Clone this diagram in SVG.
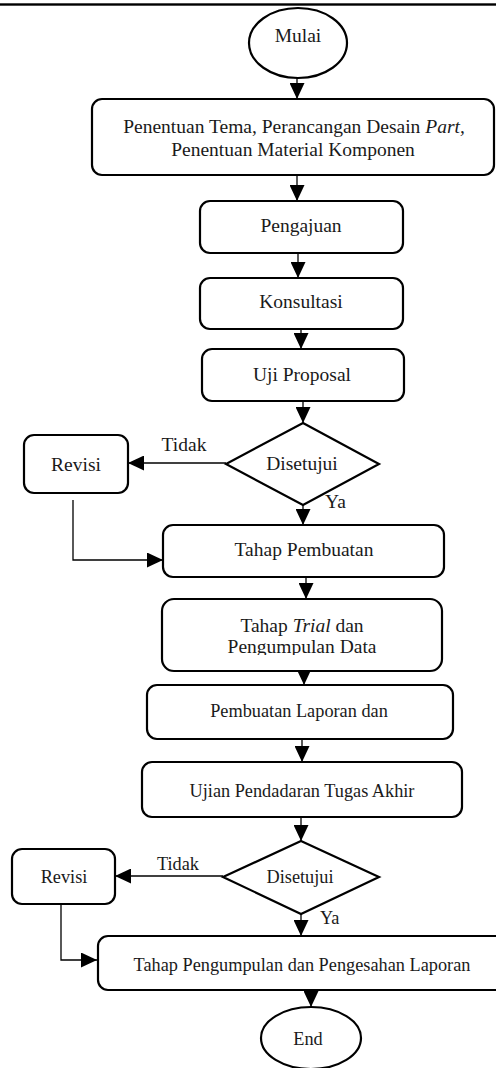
<svg xmlns="http://www.w3.org/2000/svg" width="496" height="1068" viewBox="0 0 496 1068">
<defs>
<style>
.n{fill:#fff;stroke:#000;stroke-width:2.2}
.c{fill:none;stroke:#000;stroke-width:1.3}
text{font-family:"Liberation Serif","Times New Roman",serif;font-size:19.5px;fill:#1a1a1a}
.t{font-size:18.3px}
.m{text-anchor:middle}
</style>
<marker id="ah" markerUnits="userSpaceOnUse" markerWidth="16" markerHeight="15" refX="16" refY="7.5" orient="auto">
<path d="M0,0 L16,7.5 L0,15 z" fill="#000"/>
</marker>
<clipPath id="clipTrial"><rect x="150" y="600" width="300" height="55"/></clipPath>
</defs>
<rect x="0" y="3.3" width="496" height="2.4" fill="#000"/>
<g id="connectors">
<line class="c" x1="297" y1="78" x2="297" y2="99" marker-end="url(#ah)"/>
<line class="c" x1="297" y1="175" x2="297" y2="201" marker-end="url(#ah)"/>
<line class="c" x1="298" y1="253" x2="298" y2="278" marker-end="url(#ah)"/>
<line class="c" x1="301" y1="329" x2="301" y2="349" marker-end="url(#ah)"/>
<line class="c" x1="303" y1="401" x2="303" y2="423" marker-end="url(#ah)"/>
<line class="c" x1="226" y1="463" x2="128" y2="463" marker-end="url(#ah)"/>
<line class="c" x1="303" y1="505" x2="303" y2="525" marker-end="url(#ah)"/>
<polyline class="c" points="73,500 73,560 163,560" marker-end="url(#ah)"/>
<line class="c" x1="306" y1="577" x2="306" y2="599" marker-end="url(#ah)"/>
<line class="c" x1="304" y1="671" x2="304" y2="685" marker-end="url(#ah)"/>
<line class="c" x1="302" y1="739" x2="302" y2="762" marker-end="url(#ah)"/>
<line class="c" x1="301" y1="817" x2="301" y2="841" marker-end="url(#ah)"/>
<line class="c" x1="223" y1="876" x2="115" y2="876" marker-end="url(#ah)"/>
<line class="c" x1="301" y1="914" x2="301" y2="936" marker-end="url(#ah)"/>
<polyline class="c" points="61,904 61,960 97,960" marker-end="url(#ah)"/>
<line class="c" x1="311" y1="990" x2="311" y2="1007" marker-end="url(#ah)"/>
<text x="184" y="451" class="m">Tidak</text>
<text x="325" y="508">Ya</text>
<text x="178" y="870" class="m t">Tidak</text>
<text x="320" y="924" class="t">Ya</text>
</g>
<g id="mulai">
<ellipse class="n" cx="298" cy="43" rx="49" ry="35"/>
<text x="298" y="42" class="m">Mulai</text>
</g>
<g id="penentuan">
<rect class="n" x="92" y="99" width="402" height="76" rx="10"/>
<text x="294" y="133" class="m">Penentuan Tema, Perancangan Desain <tspan font-style="italic">Part,</tspan></text>
<text x="293" y="156" class="m">Penentuan Material Komponen</text>
</g>
<g id="pengajuan">
<rect class="n" x="200" y="201" width="203" height="52" rx="10"/>
<text x="301" y="232" class="m">Pengajuan</text>
</g>
<g id="konsultasi">
<rect class="n" x="200" y="278" width="203" height="51" rx="10"/>
<text x="301" y="308" class="m">Konsultasi</text>
</g>
<g id="uji-proposal">
<rect class="n" x="202" y="349" width="202" height="52" rx="10"/>
<text x="302" y="381" class="m">Uji Proposal</text>
</g>
<g id="disetujui-1">
<polygon class="n" points="303,423 379,464 303,505 226,464"/>
<text x="302" y="470" class="m">Disetujui</text>
</g>
<g id="revisi-1">
<rect class="n" x="24" y="435" width="104" height="58" rx="10"/>
<text x="76" y="471" class="m">Revisi</text>
</g>
<g id="tahap-pembuatan">
<rect class="n" x="163" y="525" width="281" height="52" rx="10"/>
<text x="304" y="556" class="m">Tahap Pembuatan</text>
</g>
<g id="tahap-trial">
<rect class="n" x="162" y="599" width="280" height="72" rx="12"/>
<text x="302" y="632" class="m">Tahap <tspan font-style="italic">Trial</tspan> dan</text>
<text x="302" y="653" class="m" clip-path="url(#clipTrial)">Pengumpulan Data</text>
</g>
<g id="pembuatan-laporan">
<rect class="n" x="147" y="685" width="306" height="54" rx="10"/>
<text x="299" y="717" class="m t">Pembuatan Laporan dan</text>
</g>
<g id="ujian">
<rect class="n" x="142" y="762" width="320" height="55" rx="10"/>
<text x="302" y="797" class="m t">Ujian Pendadaran Tugas Akhir</text>
</g>
<g id="disetujui-2">
<polygon class="n" points="301,841 379,877 301,914 223,877"/>
<text x="300" y="883" class="m t">Disetujui</text>
</g>
<g id="revisi-2">
<rect class="n" x="12" y="849" width="103" height="55" rx="10"/>
<text x="64" y="883" class="m t">Revisi</text>
</g>
<g id="pengesahan">
<rect class="n" x="98" y="936" width="410" height="54" rx="10"/>
<text x="302" y="971" class="m t">Tahap Pengumpulan dan Pengesahan Laporan</text>
</g>
<g id="end">
<ellipse class="n" cx="311" cy="1038" rx="50" ry="31"/>
<text x="308" y="1045" class="m t">End</text>
</g>
</svg>
